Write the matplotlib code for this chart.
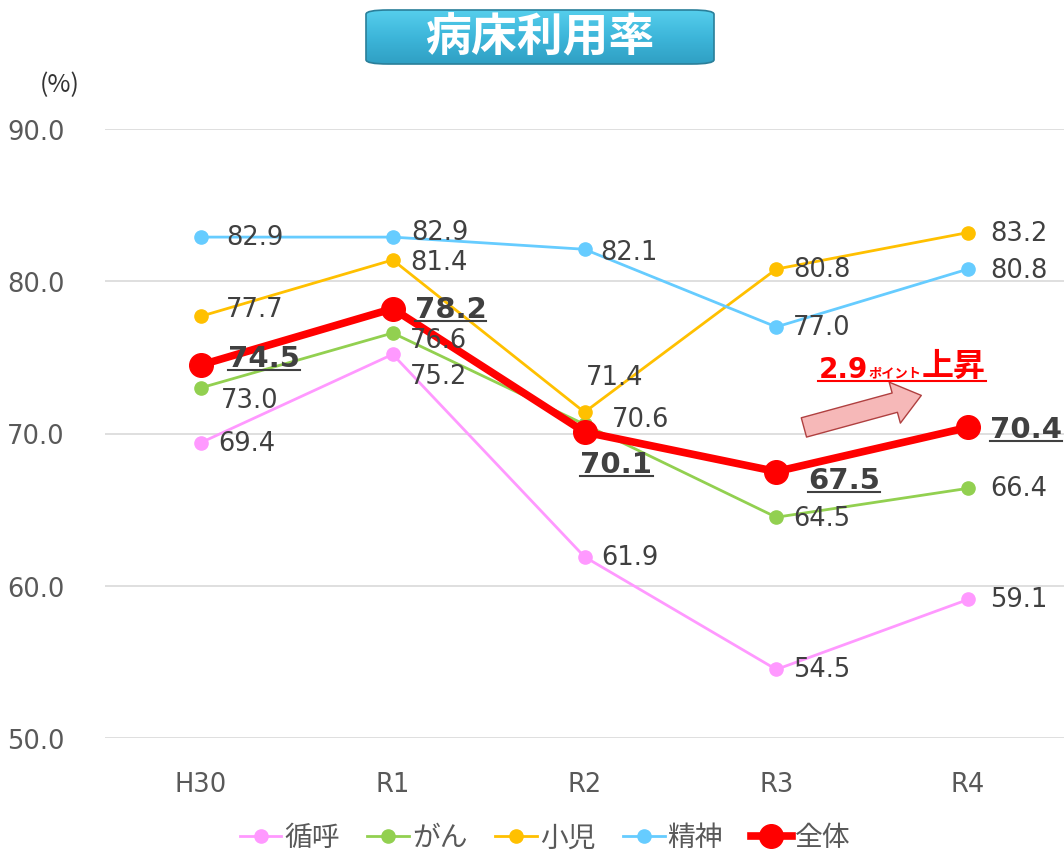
import numpy as np
import matplotlib
matplotlib.use("Agg")
import matplotlib.pyplot as plt
from matplotlib.patches import FancyBboxPatch, FancyArrowPatch
from matplotlib.lines import Line2D
from matplotlib.colors import LinearSegmentedColormap

plt.rcParams['font.family'] = ['Noto Sans CJK JP', 'DejaVu Sans']

years = ["H30", "R1", "R2", "R3", "R4"]
junko = [69.4, 75.2, 61.9, 54.5, 59.1]
gan = [73.0, 76.6, 70.6, 64.5, 66.4]
shoni = [77.7, 81.4, 71.4, 80.8, 83.2]
seishin = [82.9, 82.9, 82.1, 77.0, 80.8]
zentai = [74.5, 78.2, 70.1, 67.5, 70.4]

# label offsets in pixels (dx, dy), dy positive = up
off_junko = [(17, 0), (17, -22), (17, 0), (17, 0), (22, 0)]
off_gan = [(20, -12), (17, -7), (27, 5), (17, -1), (22, 0)]
off_shoni = [(25, 7), (18, -2), (1, 35), (17, 0), (22, 0)]
off_seishin = [(25, 0), (19, 5), (16, -3), (17, 0), (22, -1)]
off_zentai = [(27, 7), (22, 0), (-4, -32), (32, -8), (22, -2)]

series = [
    ("循呼", junko, "#FF99FF", off_junko),
    ("がん", gan, "#92D050", off_gan),
    ("小児", shoni, "#FFC000", off_shoni),
    ("精神", seishin, "#66CCFF", off_seishin),
]

num_font = ["DejaVu Sans"]

fig = plt.figure(figsize=(10.64, 8.54), dpi=100)
ax = fig.add_axes([105 / 1064, 115 / 854, 959 / 1064, 609 / 854])
x = np.arange(len(years))

for name, vals, col, offs in series:
    ax.plot(x, vals, color=col, lw=2, marker="o", ms=9.5, label=name, zorder=3)
    for xi, v, (dx, dy) in zip(x, vals, offs):
        ax.annotate(f"{v:.1f}", (xi, v), xytext=(dx, dy), textcoords="offset pixels",
                    ha="left", va="center", fontsize=18.5, color="#404040", zorder=5,
                    family=num_font)

ax.plot(x, zentai, color="#FF0000", lw=5.5, marker="o", ms=17, label="全体", zorder=4)
big_labels = []
for xi, v, (dx, dy) in zip(x, zentai, off_zentai):
    t = ax.annotate(f"{v:.1f}", (xi, v), xytext=(dx, dy), textcoords="offset pixels",
                    ha="left", va="center", fontsize=21, fontweight="bold",
                    color="#404040", zorder=6, family=num_font)
    big_labels.append(t)

ax.set_xlim(-0.5, 4.5)
ax.set_ylim(50, 90)
ax.set_yticks([50, 60, 70, 80, 90])
ax.set_yticklabels([f"{v:.1f}" for v in [50, 60, 70, 80, 90]], family=num_font)
ax.set_xticks(x)
ax.set_xticklabels(years, family=num_font)
ax.tick_params(axis="both", length=0, labelsize=18.5, labelcolor="#595959")
ax.tick_params(axis="y", pad=29)
ax.tick_params(axis="x", pad=24)
ax.grid(axis="y", color="#D9D9D9", lw=1.2)
ax.set_axisbelow(True)
for s in ax.spines.values():
    s.set_visible(False)

fig.text(60 / 1064, 1 - 85 / 854, "(%)", ha="center", va="center", fontsize=18, color="#333333")

# arrow
arr = FancyArrowPatch((3.13, 70.35), (3.77, 72.55),
                      arrowstyle="simple,head_width=1.7,head_length=1.1,tail_width=0.8",
                      mutation_scale=18, facecolor="#F6B8B8", edgecolor="#B04040", lw=1, zorder=6)
ax.add_patch(arr)

t1 = ax.annotate("2.9", (3.22, 73.3), xycoords="data", ha="left", va="bottom",
                 fontsize=20, fontweight="bold", color="#FF0000", family=num_font)
t2 = ax.annotate("ポイント", (1.02, 0.12), xycoords=t1, ha="left", va="bottom",
                 fontsize=9.5, fontweight="bold", color="#FF0000")
t3 = ax.annotate("上昇", (1, -0.12), xycoords=t2, ha="left", va="bottom",
                 fontsize=23, fontweight="bold", color="#FF0000")

leg = ax.legend(loc="center", bbox_to_anchor=(0.459, -0.163), ncol=5, frameon=False,
                fontsize=20, handlelength=1.5, columnspacing=1.0, handletextpad=0.1,
                labelcolor="#595959")

# title box with gradient
bx, by, bw, bh = 366 / 1064, 1 - 65 / 854, 348 / 1064, 54 / 854
tax = fig.add_axes([bx - 0.01, by - 0.01, bw + 0.02, bh + 0.02])
tax.set_xlim(0, 1)
tax.set_ylim(0, 1)
tax.axis("off")
box = FancyBboxPatch((0.01 / (bw + 0.02), 0.01 / (bh + 0.02)), bw / (bw + 0.02), bh / (bh + 0.02),
                     boxstyle="round,pad=0,rounding_size=0.06", transform=tax.transAxes,
                     facecolor="none", edgecolor="#2A7F9A", lw=1.2, zorder=3)
tax.add_patch(box)
grad = np.linspace(0, 1, 100).reshape(-1, 1)
cm = LinearSegmentedColormap.from_list("g", ["#2B98BC", "#3DB6DA", "#5ED6F2"])
im = tax.imshow(grad, extent=(0, 1, 0, 1), origin="lower", cmap=cm, aspect="auto", zorder=2)
im.set_clip_path(box)
tax.text(0.5, 0.5, "病床利用率", ha="center", va="center", fontsize=33, fontweight="bold",
         color="white", zorder=4, transform=tax.transAxes)

# underlines
fig.canvas.draw()
r = fig.canvas.get_renderer()
inv = fig.transFigure.inverted()


def underline(t, color, lw, gap):
    bb = t.get_window_extent(r)
    (x0, y0), (x1, _) = inv.transform([(bb.x0, bb.y0 + gap), (bb.x1, bb.y0 + gap)])
    fig.add_artist(Line2D([x0, x1], [y0, y0], color=color, lw=lw))


for t in big_labels:
    underline(t, "#404040", 1.5, 2)

bb1 = t1.get_window_extent(r)
bb3 = t3.get_window_extent(r)
(ux0, uy), (ux1, _) = inv.transform([(bb1.x0, bb1.y0 + 2), (bb3.x1, bb1.y0 + 2)])
fig.add_artist(Line2D([ux0, ux1], [uy, uy], color="#FF0000", lw=1.5))

fig.savefig("out.png", dpi=100)
